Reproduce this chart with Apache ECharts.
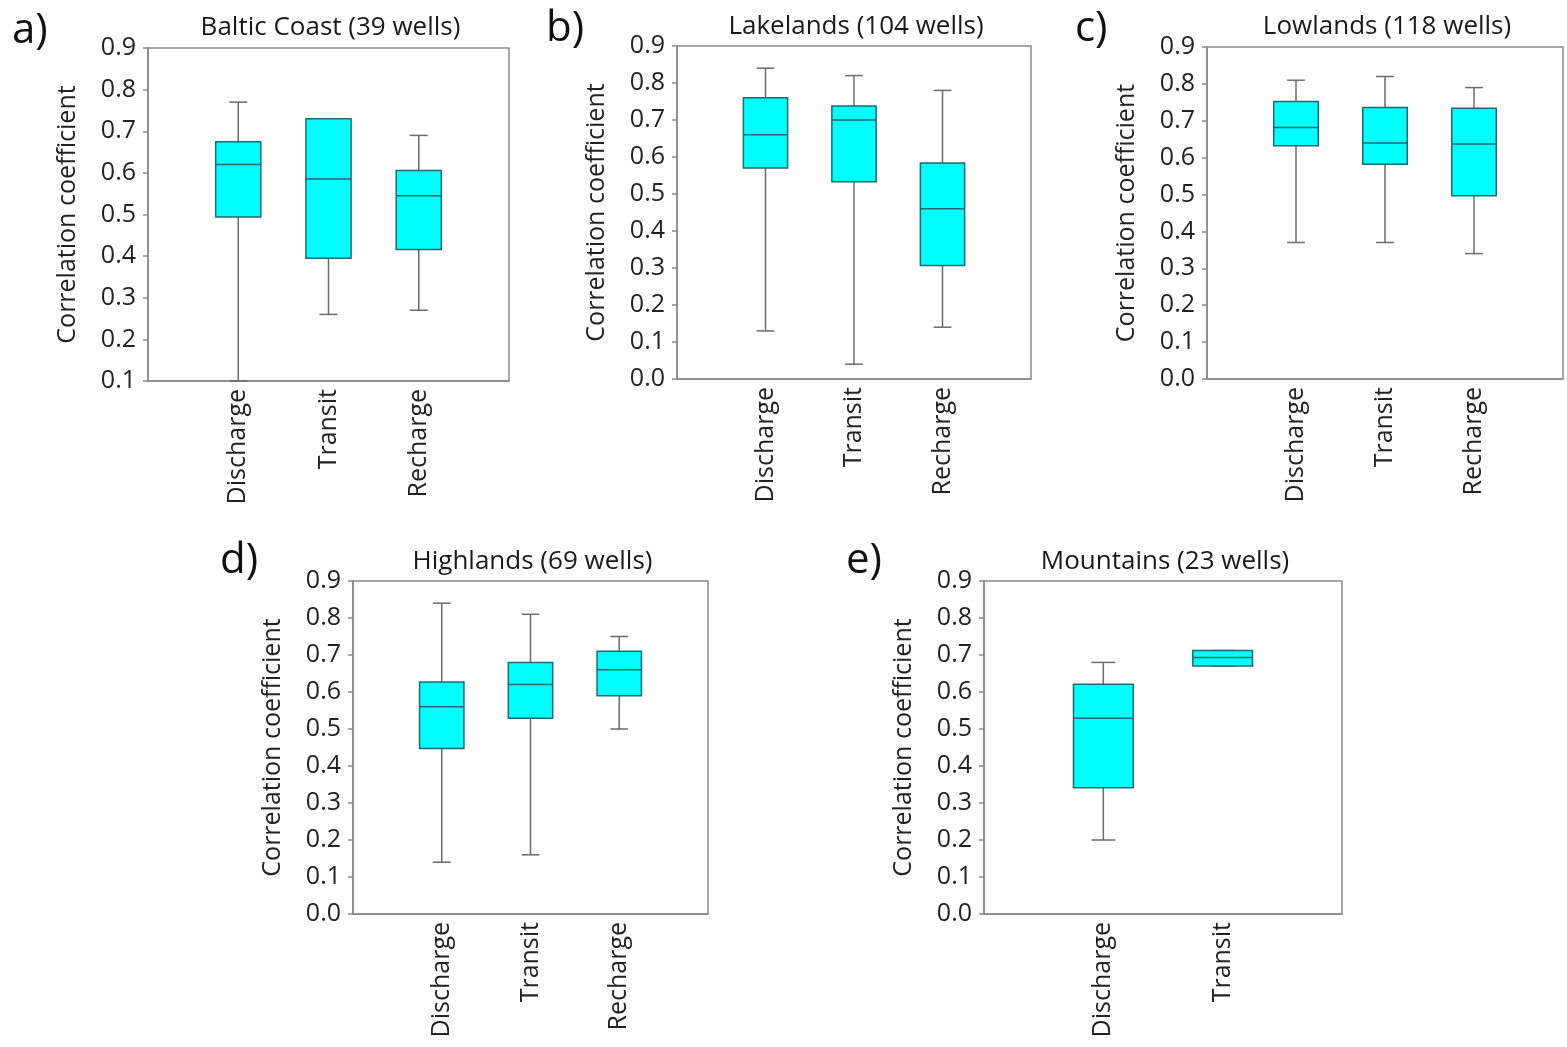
<!DOCTYPE html>
<html>
<head>
<meta charset="UTF-8">
<title>Correlation coefficient boxplots</title>
<script src="https://cdn.jsdelivr.net/npm/echarts@6/dist/echarts.min.js"></script>
<style>
  html, body { margin: 0; padding: 0; background: #fff; }
  #main { width: 1567px; height: 1047px; }
</style>
</head>
<body>
<div id="main"></div>
<script>
// categories per panel
var categories3 = ['Discharge', 'Transit', 'Recharge'];
var categories2 = ['Discharge', 'Transit'];

// box values: [min, Q1, median, Q3, max]
var balticCoast = [
  [0.10, 0.494, 0.620, 0.675, 0.770],
  [0.26, 0.395, 0.585, 0.730, 0.730],
  [0.27, 0.416, 0.545, 0.606, 0.690]
];
var lakelands = [
  [0.13, 0.570, 0.660, 0.760, 0.840],
  [0.04, 0.533, 0.700, 0.738, 0.820],
  [0.14, 0.307, 0.460, 0.584, 0.780]
];
var lowlands = [
  [0.37, 0.632, 0.682, 0.752, 0.810],
  [0.37, 0.582, 0.640, 0.736, 0.820],
  [0.34, 0.497, 0.637, 0.734, 0.790]
];
var highlands = [
  [0.14, 0.447, 0.560, 0.627, 0.840],
  [0.16, 0.529, 0.620, 0.680, 0.810],
  [0.50, 0.590, 0.660, 0.710, 0.750]
];
var mountains = [
  [0.20, 0.341, 0.529, 0.621, 0.680],
  [0.67, 0.670, 0.693, 0.712, 0.712]
];

var titles = ['Baltic Coast (39 wells)', 'Lakelands (104 wells)', 'Lowlands (118 wells)',
              'Highlands (69 wells)', 'Mountains (23 wells)'];
var letters = ['a)', 'b)', 'c)', 'd)', 'e)'];
var yMins = [0.1, 0, 0, 0, 0];
var yMax = 0.9;

var panels = [
  { data: balticCoast, cats: categories3, grid: { left: 148, top: 48, width: 361, height: 333 }, letter: [12, 31], titleY: 28 },
  { data: lakelands, cats: categories3, grid: { left: 677, top: 46, width: 354, height: 333 }, letter: [546, 29], titleY: 27 },
  { data: lowlands, cats: categories3, grid: { left: 1207, top: 47, width: 356, height: 332 }, letter: [1075, 29], titleY: 27 },
  { data: highlands, cats: categories3, grid: { left: 353, top: 581, width: 355, height: 333 }, letter: [220, 561], titleY: 562 },
  { data: mountains, cats: categories2, grid: { left: 984, top: 581, width: 358, height: 333 }, letter: [846, 561], titleY: 562 }
];

var FONT = '"Open Sans", "Noto Sans", sans-serif';
var frameColor = '#8a8a8a';

var grids = [], xAxes = [], yAxes = [], series = [], graphics = [];

panels.forEach(function (p, i) {
  var g = p.grid;
  grids.push({
    left: g.left, top: g.top, width: g.width, height: g.height,
    show: true, borderColor: frameColor, borderWidth: 1.5, backgroundColor: '#fff'
  });
  var cats = p.cats;
  xAxes.push({
    gridIndex: i, type: 'value', min: 0, max: cats.length + 1, interval: 1,
    axisLine: { show: true, lineStyle: { color: frameColor, width: 1.5 } },
    axisTick: { show: false },
    splitLine: { show: false },
    axisLabel: {
      rotate: 90, margin: 8, fontSize: 25, color: '#222', fontFamily: FONT,
      formatter: function (v) { return cats[v - 1] || ''; }
    }
  });
  yAxes.push({
    gridIndex: i, type: 'value', min: yMins[i], max: yMax, interval: 0.1,
    name: 'Correlation coefficient', nameLocation: 'middle', nameGap: 68,
    nameTextStyle: { fontSize: 25, color: '#222', fontFamily: FONT },
    axisLine: { show: true, lineStyle: { color: frameColor, width: 1.5 } },
    axisTick: { show: true, inside: false, length: 5, lineStyle: { color: frameColor, width: 1.5 } },
    splitLine: { show: false },
    axisLabel: {
      margin: 12, fontSize: 25, color: '#222', fontFamily: FONT,
      formatter: function (v) { return v.toFixed(1); }
    }
  });

  var rows = p.data.map(function (d, k) { return [k + 1].concat(d); });
  series.push({
    type: 'custom', xAxisIndex: i, yAxisIndex: i,
    data: rows,
    encode: { x: 0, y: [1, 2, 3, 4, 5] },
    renderItem: function (params, api) {
      var x = api.value(0);
      var pMin = api.coord([x, api.value(1)]);
      var pQ1 = api.coord([x, api.value(2)]);
      var pMed = api.coord([x, api.value(3)]);
      var pQ3 = api.coord([x, api.value(4)]);
      var pMax = api.coord([x, api.value(5)]);
      var bw = api.size([0.5, 0])[0];
      var cw = api.size([0.2, 0])[0];
      var cx = pMed[0];
      var whisker = { stroke: '#6b6b6b', lineWidth: 1.5 };
      var edge = '#1f6a6e';
      return {
        type: 'group',
        children: [
          { type: 'line', shape: { x1: cx, y1: pQ3[1], x2: cx, y2: pMax[1] }, style: whisker },
          { type: 'line', shape: { x1: cx, y1: pQ1[1], x2: cx, y2: pMin[1] }, style: whisker },
          { type: 'line', shape: { x1: cx - cw / 2, y1: pMax[1], x2: cx + cw / 2, y2: pMax[1] }, style: whisker },
          { type: 'line', shape: { x1: cx - cw / 2, y1: pMin[1], x2: cx + cw / 2, y2: pMin[1] }, style: whisker },
          { type: 'rect', shape: { x: cx - bw / 2, y: pQ3[1], width: bw, height: pQ1[1] - pQ3[1] },
            style: { fill: '#00ffff', stroke: edge, lineWidth: 1.5 } },
          { type: 'line', shape: { x1: cx - bw / 2, y1: pMed[1], x2: cx + bw / 2, y2: pMed[1] },
            style: { stroke: edge, lineWidth: 1.5 } }
        ]
      };
    }
  });

  graphics.push({
    type: 'text', x: g.left + g.width / 2 + 2, y: p.titleY,
    style: { text: titles[i], fontSize: 26, fill: '#1a1a1a', fontFamily: FONT, textAlign: 'center', textVerticalAlign: 'middle' }
  });
  graphics.push({
    type: 'text', x: p.letter[0], y: p.letter[1],
    style: { text: letters[i], fontSize: 42, fill: '#111', fontFamily: FONT, textVerticalAlign: 'middle' }
  });
});

var chart = echarts.init(document.getElementById('main'), null, { renderer: 'canvas' });
chart.setOption({
  backgroundColor: '#fff',
  animation: false,
  grid: grids,
  xAxis: xAxes,
  yAxis: yAxes,
  series: series,
  graphic: graphics
});
</script>
</body>
</html>
